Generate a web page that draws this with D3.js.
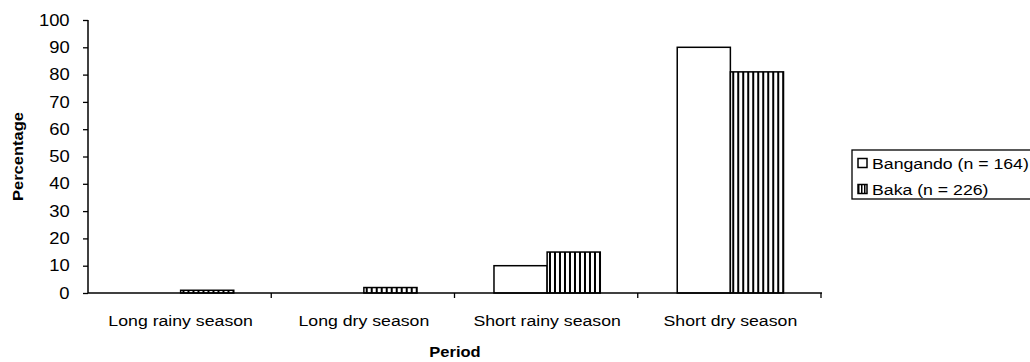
<!DOCTYPE html>
<html>
<head>
<meta charset="utf-8">
<script src="https://cdn.jsdelivr.net/npm/d3@7"></script>
<style>
  html, body { margin: 0; padding: 0; background: #fff; }
  svg { display: block; }
  text { font-family: "Liberation Sans", Arial, sans-serif; fill: #000; }
</style>
</head>
<body>
<svg id="chart" width="1030" height="362"></svg>
<script>
// Seasonal percentages for the two groups
const categories = ["Long rainy season", "Long dry season", "Short rainy season", "Short dry season"];
const seriesNames = ["Bangando (n = 164)", "Baka (n = 226)"];
const bangando = [0, 0, 10, 90];
const baka = [1, 2, 15, 81];
const yTicks = [0, 10, 20, 30, 40, 50, 60, 70, 80, 90, 100];

const svg = d3.select("#chart");
const SX = 1.18; // horizontal stretch of the lettering

const x0 = d3.scaleBand().domain(categories).range([89, 822]).paddingInner(0.42).paddingOuter(0.21);
const x1 = d3.scaleBand().domain(seriesNames).range([0, x0.bandwidth()]);
const y = d3.scaleLinear().domain([0, 100]).range([293, 20]);

// vertical hatching for the second series
const defs = svg.append("defs");
const pat = defs.append("pattern").attr("id", "vhatch")
  .attr("patternUnits", "userSpaceOnUse").attr("width", 5).attr("height", 10);
pat.append("rect").attr("width", 5).attr("height", 10).attr("fill", "#fff");
pat.append("rect").attr("x", 0).attr("width", 2).attr("height", 10).attr("fill", "#000");
const patL = defs.append("pattern").attr("id", "vhatchLegend")
  .attr("patternUnits", "userSpaceOnUse").attr("x", 858).attr("width", 3).attr("height", 10);
patL.append("rect").attr("width", 3).attr("height", 10).attr("fill", "#fff");
patL.append("rect").attr("x", 0).attr("width", 1.5).attr("height", 10).attr("fill", "#000");

// bars
const rows = categories.map((c, i) => ({ cat: c, vals: [bangando[i], baka[i]] }));
const groups = svg.append("g").selectAll("g").data(rows).join("g")
  .attr("transform", d => `translate(${x0(d.cat)},0)`);
groups.selectAll("rect").data(d => d.vals.map((v, k) => ({ v, k })).filter(e => e.v > 0)).join("rect")
  .attr("x", e => x1(seriesNames[e.k]))
  .attr("y", e => y(e.v))
  .attr("width", x1.bandwidth())
  .attr("height", e => y(0) - y(e.v))
  .attr("fill", e => e.k === 0 ? "#fff" : "url(#vhatch)")
  .attr("stroke", "#000").attr("stroke-width", 1.5);

// y axis
const yAxis = svg.append("g").attr("transform", "translate(88,0)")
  .call(d3.axisLeft(y).tickValues(yTicks).tickSize(5).tickPadding(11).tickFormat(d3.format("d")));
yAxis.select(".domain").attr("stroke", "#000").attr("stroke-width", 1.5).attr("d", `M0,${y(100)}V${y(0)}`);
yAxis.selectAll(".tick line").attr("stroke", "#000").attr("stroke-width", 1.3);
yAxis.selectAll(".tick text").attr("font-size", 16).attr("fill", "#000")
  .attr("font-family", "Liberation Sans, Arial, sans-serif")
  .attr("transform", "scale(1.15,1)");

// x axis
const xAxis = svg.append("g").attr("transform", `translate(0,${y(0)})`)
  .call(d3.axisBottom(x0).tickSize(0).tickPadding(22));
xAxis.select(".domain").attr("stroke", "#000").attr("stroke-width", 1.5).attr("d", "M88,0H822");
xAxis.selectAll(".tick text").attr("font-size", 15).attr("fill", "#000")
  .attr("font-family", "Liberation Sans, Arial, sans-serif")
  .attr("transform", `scale(${SX},1)`)
  .attr("x", 0);
// category boundary ticks
const edges = categories.map((c, i) => 88 + x0.step() * (i + 1));
svg.append("g").selectAll("line").data(edges).join("line")
  .attr("x1", d => d).attr("x2", d => d)
  .attr("y1", y(0)).attr("y2", y(0) + 5)
  .attr("stroke", "#000").attr("stroke-width", 1.3);

// axis titles
svg.append("text").attr("transform", `translate(23,${(y(0) + y(100)) / 2}) rotate(-90) scale(${SX},1)`)
  .attr("text-anchor", "middle").attr("font-size", 14).attr("font-weight", "bold").text("Percentage");
svg.append("text").attr("transform", `translate(${(88 + 822) / 2},357) scale(${SX},1)`)
  .attr("text-anchor", "middle").attr("font-size", 14).attr("font-weight", "bold").text("Period");

// legend
const lg = svg.append("g");
lg.append("rect").attr("x", 852).attr("y", 150).attr("width", 190).attr("height", 49)
  .attr("fill", "#fff").attr("stroke", "#000").attr("stroke-width", 1.3);
seriesNames.forEach((name, k) => {
  const cy = 163 + k * 26;
  lg.append("rect").attr("x", 858).attr("y", cy - 4.5).attr("width", 9).attr("height", 9)
    .attr("fill", k === 0 ? "#fff" : "url(#vhatchLegend)").attr("stroke", "#000").attr("stroke-width", 1.5);
  lg.append("text").attr("transform", `translate(872,${cy + 5.5}) scale(${SX},1)`)
    .attr("font-size", 15).text(name);
});
</script>
</body>
</html>
